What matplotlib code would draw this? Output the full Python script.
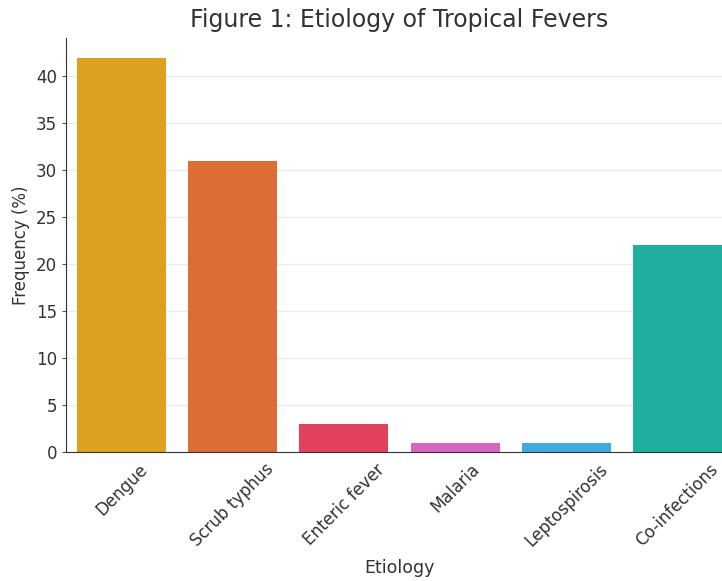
import matplotlib
matplotlib.use("Agg")
import matplotlib.pyplot as plt

categories = ["Dengue", "Scrub typhus", "Enteric fever", "Malaria", "Leptospirosis", "Co-infections"]
values = [42, 31, 3, 1, 1, 22]
colors = ["#DDA11F", "#DB6D35", "#E2415E", "#D766C0", "#42A9E0", "#1FAF9F"]

fig = plt.figure(figsize=(7.22, 5.81), dpi=100)
ax = fig.add_axes([66/722, 1-452/581, (733-66)/722, (452-38)/581])

x = range(len(categories))
ax.bar(x, values, width=0.8, color=colors, zorder=2)
ax.set_xlim(-0.5, len(categories) - 0.5)
ax.set_ylim(0, 44.1)
ax.set_xticks(list(x))
ax.set_xticklabels(categories, rotation=45, ha="center", fontsize=12, color="#333333")
ax.set_yticks(range(0, 45, 5))
ax.tick_params(axis="y", labelsize=12, labelcolor="#333333", length=3, color="#555555")
ax.tick_params(axis="x", direction="in", length=4, color="#333333", pad=6)
ax.yaxis.grid(True, color="#EBEBEB", linewidth=1, zorder=0)
ax.set_axisbelow(True)
for s in ["top", "right"]:
    ax.spines[s].set_visible(False)
for s in ["left", "bottom"]:
    ax.spines[s].set_color("#333333")
ax.set_ylabel("Frequency (%)", fontsize=12, color="#333333", labelpad=4)
ax.set_xlabel("Etiology", fontsize=12.5, color="#333333", labelpad=6)
ax.set_title("Figure 1: Etiology of Tropical Fevers", fontsize=17, color="#333333", pad=8)

fig.savefig("out.png", dpi=100)
